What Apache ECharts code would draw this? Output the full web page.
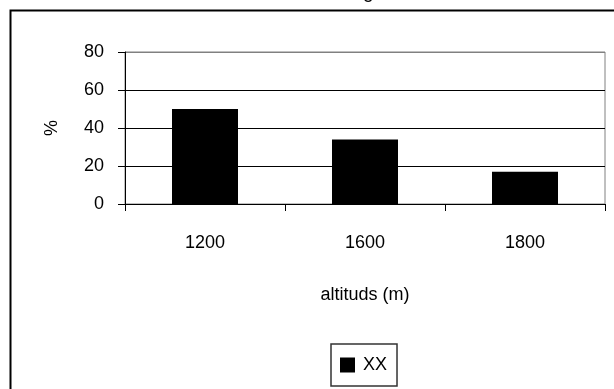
<!DOCTYPE html>
<html>
<head>
<meta charset="utf-8">
<script src="https://cdn.jsdelivr.net/npm/echarts@6/dist/echarts.min.js"></script>
<style>html,body{margin:0;padding:0;background:#fff}#c{width:614px;height:389px}</style>
</head>
<body>
<div id="c"></div>
<script>
const categories = ['1200', '1600', '1800'];
const seriesName = 'XX';
const values = [50, 34, 17];
const yTicks = [0, 20, 40, 60, 80];
const xAxisTitle = 'altituds (m)';
const yAxisTitle = '%';
const titleTail = 'g';

const FONT = "'Liberation Sans', Arial, sans-serif";
const chart = echarts.init(document.getElementById('c'), null, {renderer: 'canvas'});
chart.setOption({
  animation: false,
  backgroundColor: '#fff',
  textStyle: {fontFamily: FONT, color: '#000'},
  graphic: [{
    type: 'rect', left: 8, top: 8, z: -10,
    shape: {width: 640, height: 420},
    style: {fill: 'none', stroke: '#000', lineWidth: 2}
  }, {
    type: 'text', x: 363, y: 2, z: 10,
    style: {text: titleTail, fontFamily: FONT, fontSize: 19, fill: '#000', verticalAlign: 'bottom', align: 'left'}
  }],
  grid: {
    left: 125, right: 9, top: 52, bottom: 185,
    show: true, borderColor: '#808080', borderWidth: 1, backgroundColor: 'transparent'
  },
  legend: {
    data: [seriesName], left: 331, top: 344,
    icon: 'rect', itemWidth: 15, itemHeight: 15, itemGap: 5,
    padding: [12, 10, 12, 9],
    borderColor: '#333', borderWidth: 1.5,
    textStyle: {fontFamily: FONT, fontSize: 18, color: '#000', padding: [0, 0, 0, 3]}
  },
  xAxis: {
    type: 'category', data: categories,
    axisLine: {lineStyle: {color: '#000', width: 1}},
    axisTick: {show: true, length: 7, lineStyle: {color: '#000'}},
    axisLabel: {fontFamily: FONT, fontSize: 18, color: '#000', margin: 30},
    name: xAxisTitle, nameLocation: 'middle', nameGap: 82,
    nameTextStyle: {fontFamily: FONT, fontSize: 18, color: '#000'}
  },
  yAxis: {
    type: 'value', min: yTicks[0], max: yTicks[yTicks.length - 1], interval: 20,
    axisLine: {show: true, lineStyle: {color: '#000', width: 1}},
    axisTick: {show: true, length: 7, lineStyle: {color: '#000'}},
    axisLabel: {fontFamily: FONT, fontSize: 18, color: '#000', margin: 21},
    splitLine: {show: true, lineStyle: {color: ['#000', '#000', '#000', '#000', '#808080'], width: 1}},
    name: yAxisTitle, nameLocation: 'middle', nameGap: 64, nameRotate: 90,
    nameTextStyle: {fontFamily: FONT, fontSize: 18, color: '#000'}
  },
  series: [{
    name: seriesName, type: 'bar', data: values, barWidth: 66,
    itemStyle: {color: '#000'}
  }]
});
</script>
</body>
</html>
